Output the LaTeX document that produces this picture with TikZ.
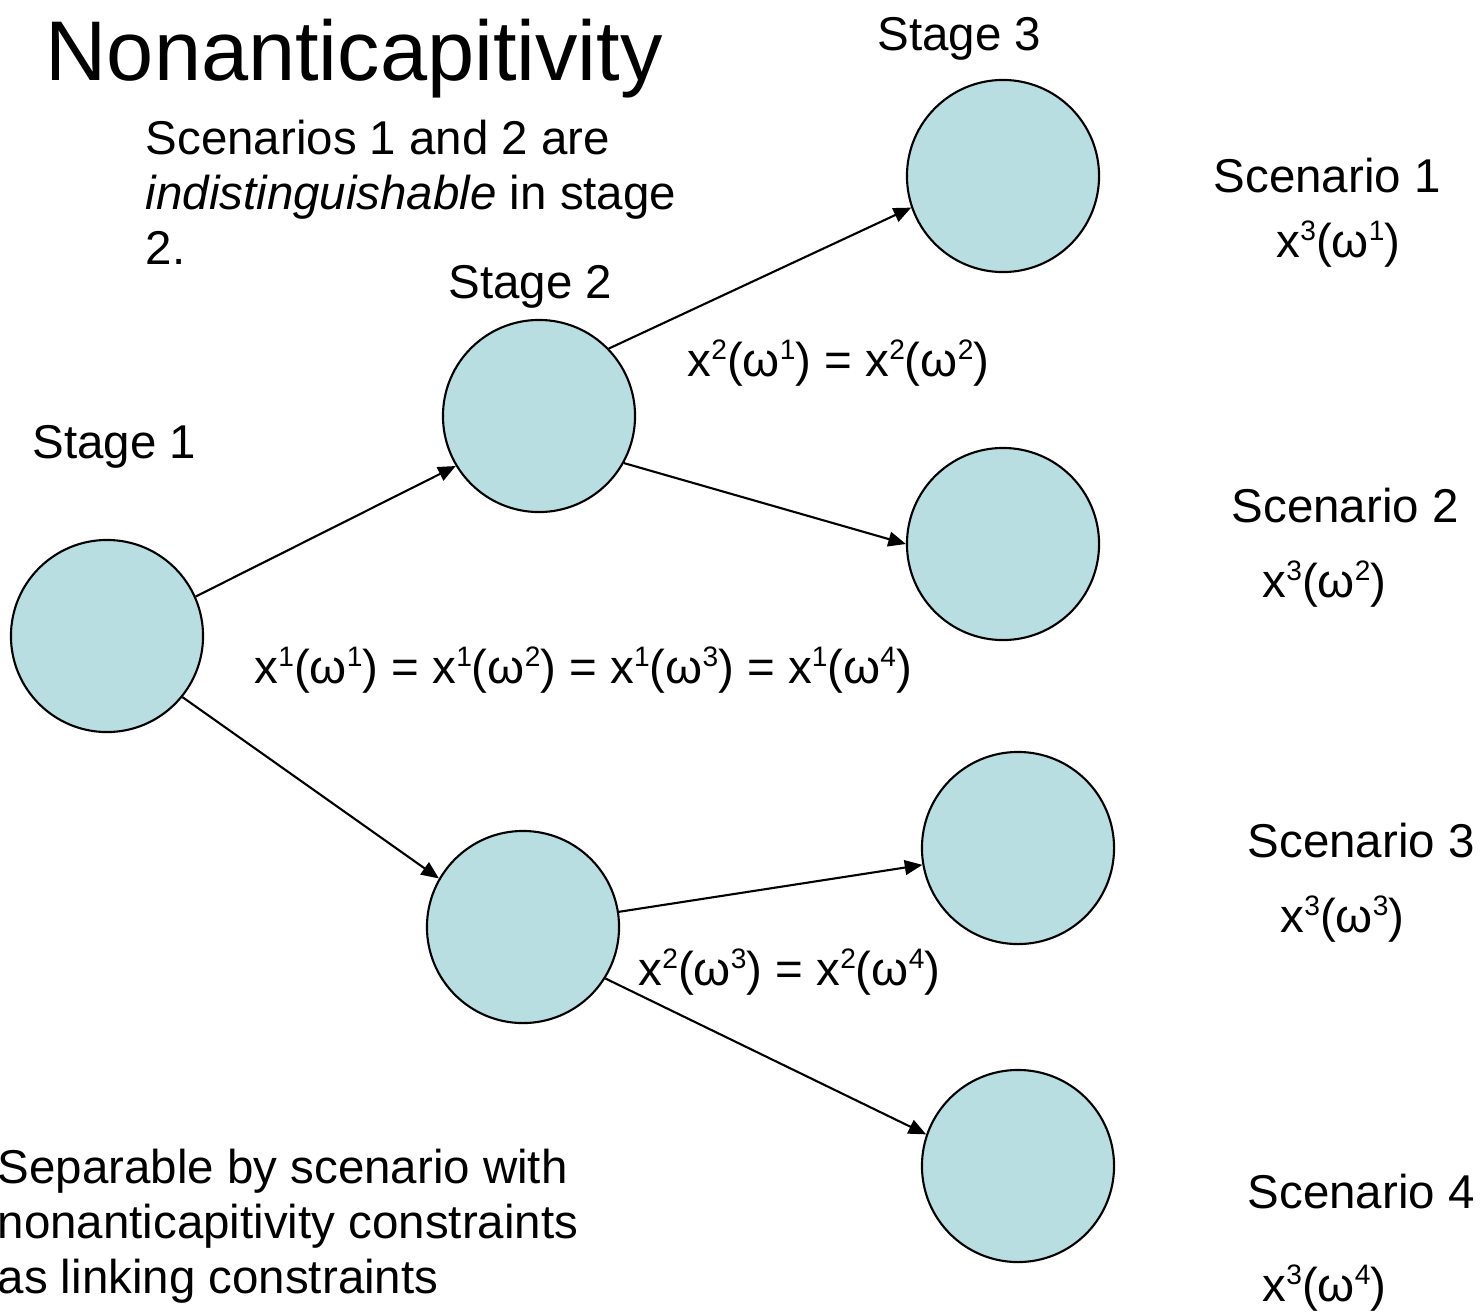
\documentclass[tikz,border=0pt]{standalone}
\usepackage{fontspec}
\setmainfont{Liberation Sans}
\usetikzlibrary{arrows.meta}
\definecolor{nodefill}{RGB}{185,222,226}
\newcommand\supnum[1]{\raisebox{4.6pt}{\fontsize{8pt}{8pt}\selectfont #1}}
\begin{document}
\begin{tikzpicture}[x=0.01cm,y=-0.01cm,
  stnode/.style={circle,draw,line width=0.6pt,fill=nodefill,minimum size=1.92cm,inner sep=0pt},
  lbl/.style={anchor=base west,inner sep=0pt,font=\fontsize{13.5pt}{15.6pt}\selectfont},
  conn/.style={line width=0.6pt,-{Triangle[length=5pt,width=4.2pt]}}]
\useasboundingbox (0,0) rectangle (1482,1312);

% circles
\node[stnode] (s1)  at (107,636) {};
\node[stnode] (s2a) at (539,416) {};
\node[stnode] (s2b) at (523,927) {};
\node[stnode] (s3a) at (1003,176) {};
\node[stnode] (s3b) at (1003,544) {};
\node[stnode] (s3c) at (1018,848) {};
\node[stnode] (s3d) at (1018,1166) {};

% connectors
\draw[conn] (s1.24.6) -- (s2a.-149.7);
\draw[conn] (s1.-39.6) -- (s2b.150.2);
\draw[conn] (s2a.44.3) -- (s3a.-161);
\draw[conn] (s2a.-29.5) -- (s3b.180);
\draw[conn] (s2b.9) -- (s3c.-170.5);
\draw[conn] (s2b.-32) -- (s3d.161);

% title
\node[anchor=base west,inner sep=0pt,font=\fontsize{24.1pt}{28pt}\selectfont] (title) at (45,80) {Nonanticapitivity};

% stage labels
\node[lbl] (st3) at (877,50) {Stage 3};
\node[lbl] (st2) at (448,298) {Stage 2};
\node[lbl] (st1) at (32,458) {Stage 1};

% note
\node[lbl] (n1) at (145,154) {Scenarios 1 and 2 are};
\node[lbl] (n2) at (145,209) {\textit{indistinguishable} in stage};
\node[lbl] (n3) at (145,264) {2.};

% equalities
\node[lbl] (eq2a) at (687,376) {x\supnum{2}(ω\supnum{1}) = x\supnum{2}(ω\supnum{2})};
\node[lbl] (eq1) at (254,683) {x\supnum{1}(ω\supnum{1}) = x\supnum{1}(ω\supnum{2}) = x\supnum{1}(ω\supnum{3}) = x\supnum{1}(ω\supnum{4})};
\node[lbl] (eq2b) at (638,985) {x\supnum{2}(ω\supnum{3}) = x\supnum{2}(ω\supnum{4})};

% scenarios
\node[lbl] (sc1) at (1213,192) {Scenario 1};
\node[lbl] (x31) at (1276,257) {x\supnum{3}(ω\supnum{1})};
\node[lbl] (sc2) at (1231,522) {Scenario 2};
\node[lbl] (x32) at (1262,597) {x\supnum{3}(ω\supnum{2})};
\node[lbl] (sc3) at (1247,857) {Scenario 3};
\node[lbl] (x33) at (1280,932) {x\supnum{3}(ω\supnum{3})};
\node[lbl] (sc4) at (1247,1208) {Scenario 4};
\node[lbl] (x34) at (1262,1301) {x\supnum{3}(ω\supnum{4})};

% bottom note
\node[lbl] (b1) at (-3,1183) {Separable by scenario with};
\node[lbl] (b2) at (-3,1238) {nonanticapitivity constraints};
\node[lbl] (b3) at (-3,1293) {as linking constraints};
\end{tikzpicture}
\end{document}
